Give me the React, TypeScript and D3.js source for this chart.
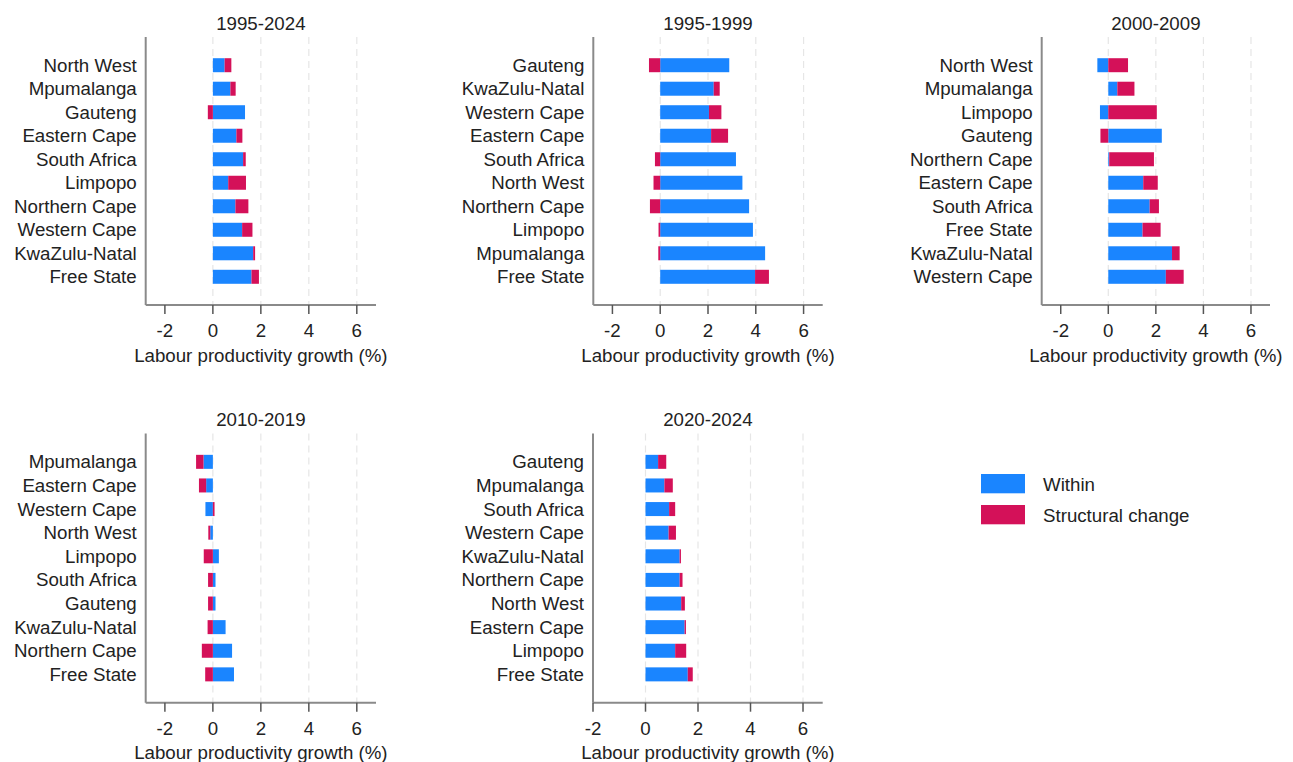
import React from "react";
import * as d3 from "d3";

const W = 1293;
const H = 762;

const titles = ["1995-2024", "1995-1999", "2000-2009", "2010-2019", "2020-2024"];

const cats1 = ["North West", "Mpumalanga", "Gauteng", "Eastern Cape", "South Africa", "Limpopo", "Northern Cape", "Western Cape", "KwaZulu-Natal", "Free State"];
const within1 = [0.49, 0.73, 1.34, 0.98, 1.26, 0.64, 0.94, 1.22, 1.68, 1.61];
const struct1 = [0.28, 0.22, -0.21, 0.25, 0.11, 0.74, 0.54, 0.43, 0.08, 0.31];

const cats2 = ["Gauteng", "KwaZulu-Natal", "Western Cape", "Eastern Cape", "South Africa", "North West", "Northern Cape", "Limpopo", "Mpumalanga", "Free State"];
const within2 = [2.89, 2.24, 2.04, 2.13, 3.17, 3.44, 3.72, 3.88, 4.39, 3.97];
const struct2 = [-0.47, 0.25, 0.52, 0.71, -0.22, -0.28, -0.43, -0.07, -0.08, 0.58];

const cats3 = ["North West", "Mpumalanga", "Limpopo", "Gauteng", "Northern Cape", "Eastern Cape", "South Africa", "Free State", "KwaZulu-Natal", "Western Cape"];
const within3 = [-0.46, 0.38, -0.35, 2.25, 0.04, 1.47, 1.74, 1.44, 2.68, 2.42];
const struct3 = [0.83, 0.72, 2.04, -0.33, 1.88, 0.61, 0.39, 0.76, 0.32, 0.75];

const cats4 = ["Mpumalanga", "Eastern Cape", "Western Cape", "North West", "Limpopo", "South Africa", "Gauteng", "KwaZulu-Natal", "Northern Cape", "Free State"];
const within4 = [-0.39, -0.28, -0.31, -0.11, 0.25, 0.11, 0.11, 0.53, 0.80, 0.88];
const struct4 = [-0.31, -0.30, 0.07, -0.08, -0.38, -0.20, -0.20, -0.22, -0.46, -0.32];

const cats5 = ["Gauteng", "Mpumalanga", "South Africa", "Western Cape", "KwaZulu-Natal", "Northern Cape", "North West", "Eastern Cape", "Limpopo", "Free State"];
const within5 = [0.48, 0.72, 0.90, 0.88, 1.30, 1.30, 1.36, 1.49, 1.13, 1.61];
const struct5 = [0.31, 0.32, 0.23, 0.28, 0.05, 0.11, 0.14, 0.05, 0.42, 0.19];

const xTicks = [-2, 0, 2, 4, 6];
const seriesKeys = ["within", "structural"];
const seriesLabels = ["Within", "Structural change"];
const colors = ["#1A85FF", "#D41159"];

const FONT = "'Liberation Sans', Arial, Helvetica, sans-serif";
const FS = 18.7;

type PanelSpec = {
  title: string;
  cats: string[];
  within: number[];
  struct: number[];
  x0: number;
  x1: number;
  y0: number;
  y1: number;
  domain: [number, number];
};

const panels: PanelSpec[] = [
  { title: titles[0], cats: cats1, within: within1, struct: struct1, x0: 145.7, x1: 376, y0: 37, y1: 305, domain: [-2.8, 6.8] },
  { title: titles[1], cats: cats2, within: within2, struct: struct2, x0: 593.3, x1: 822.7, y0: 37, y1: 305, domain: [-2.8, 6.8] },
  { title: titles[2], cats: cats3, within: within3, struct: struct3, x0: 1041.7, x1: 1270, y0: 37, y1: 305, domain: [-2.8, 6.8] },
  { title: titles[3], cats: cats4, within: within4, struct: struct4, x0: 145.7, x1: 376, y0: 433.5, y1: 702.7, domain: [-2.8, 6.8] },
  { title: titles[4], cats: cats5, within: within5, struct: struct5, x0: 593, x1: 822.7, y0: 433.5, y1: 702.7, domain: [-2, 6.75] },
];

function Panel({ p }: { p: PanelSpec }) {
  const x = d3.scaleLinear().domain(p.domain).range([p.x0, p.x1]);
  const y = d3.scalePoint<string>().domain(p.cats).range([p.y0, p.y1]).padding(1.2);
  const rows = p.cats.map((c, i) => ({ cat: c, within: p.within[i], structural: p.struct[i] }));
  const stacked = d3
    .stack<any>()
    .keys(seriesKeys)
    .offset(d3.stackOffsetDiverging)(rows);
  const barH = 14;
  const cx = (p.x0 + p.x1) / 2;
  return (
    <g>
      <text x={cx} y={p.y0 - 7.5} textAnchor="middle" fontSize={FS} fill="#222" fontFamily={FONT}>
        {p.title}
      </text>
      {xTicks
        .filter((t) => t >= 0)
        .map((t) => (
          <line key={"g" + t} x1={x(t)} x2={x(t)} y1={p.y0} y2={p.y1} stroke="#e6e6e6" strokeWidth={1.2} strokeDasharray="7,5" />
        ))}
      {stacked.map((s, si) => (
        <g key={si} fill={colors[si]}>
          {s.map((d: any, i: number) => {
            const a = x(d[0]);
            const b = x(d[1]);
            return <rect key={i} x={Math.min(a, b)} width={Math.abs(b - a)} y={(y(rows[i].cat) as number) - barH / 2} height={barH} />;
          })}
        </g>
      ))}
      <line x1={p.x0} x2={p.x0} y1={p.y0} y2={p.y1} stroke="#8a8a8a" strokeWidth={2} />
      <line x1={p.x0} x2={p.x1} y1={p.y1} y2={p.y1} stroke="#8a8a8a" strokeWidth={2} />
      {xTicks.map((t) => (
        <g key={"t" + t}>
          <line x1={x(t)} x2={x(t)} y1={p.y1} y2={p.y1 + 9} stroke="#555" strokeWidth={1.5} />
          <text x={x(t)} y={p.y1 + 32} textAnchor="middle" fontSize={FS} fill="#222" fontFamily={FONT}>
            {t}
          </text>
        </g>
      ))}
      <text x={cx} y={p.y1 + 56.5} textAnchor="middle" fontSize={FS} fill="#222" fontFamily={FONT}>
        Labour productivity growth (%)
      </text>
      {p.cats.map((c) => (
        <text key={c} x={p.x0 - 9} y={(y(c) as number) + 6.5} textAnchor="end" fontSize={FS} fill="#222" fontFamily={FONT}>
          {c}
        </text>
      ))}
    </g>
  );
}

export default function App() {
  return (
    <svg width={W} height={H} style={{ display: "block", position: "absolute", left: 0, top: 0, background: "#fff" }}>
      <rect width={W} height={H} fill="#fff" />
      {panels.map((p, i) => (
        <Panel key={i} p={p} />
      ))}
      <g>
        {seriesLabels.map((l, i) => (
          <g key={l}>
            <rect x={981} y={474 + i * 31} width={44} height={19.3} fill={colors[i]} />
            <text x={1043} y={490.5 + i * 31} fontSize={FS} fill="#222" fontFamily={FONT}>
              {l}
            </text>
          </g>
        ))}
      </g>
    </svg>
  );
}
